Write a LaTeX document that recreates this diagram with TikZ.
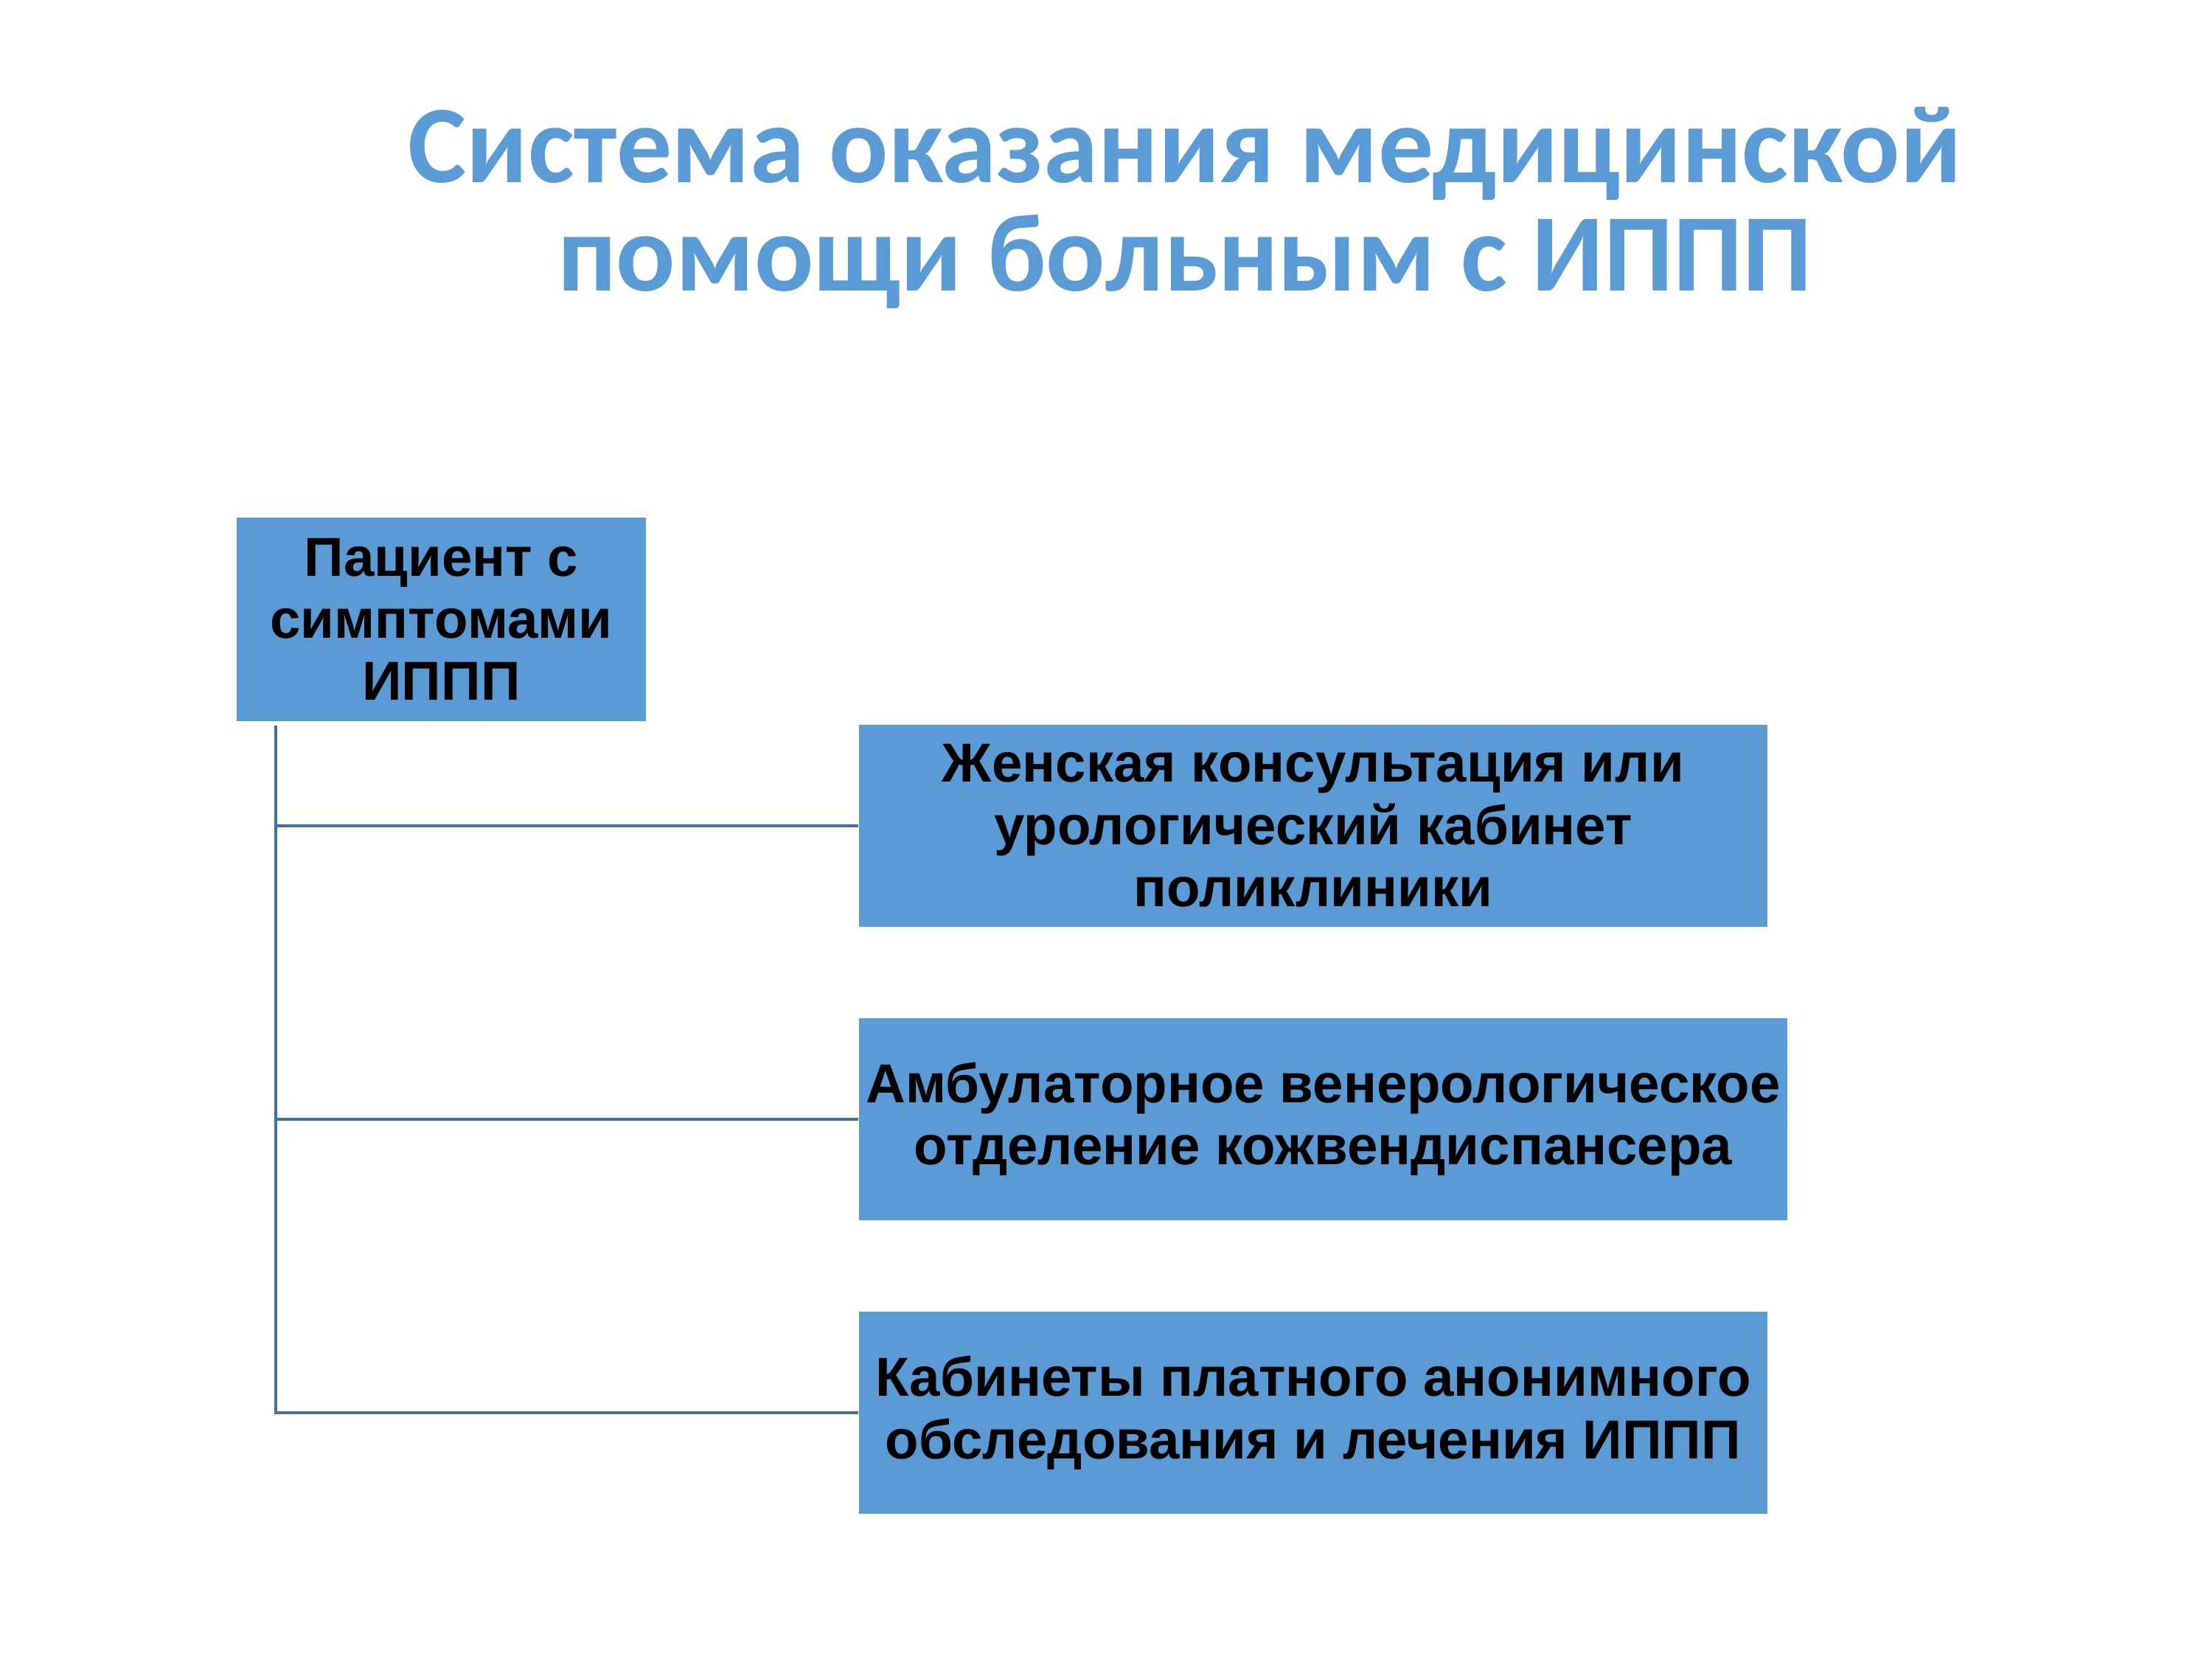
\documentclass[tikz,border=0pt]{standalone}
\usepackage{fontspec}
\setmainfont{Liberation Sans}
\newfontfamily\titlefont{Carlito}
\definecolor{boxblue}{HTML}{5B9BD5}
\definecolor{linkblue}{HTML}{41719C}
\tikzset{
  boxnode/.style={fill=boxblue,draw=none,inner sep=0pt,align=center,
    font=\fontsize{21.2}{24}\selectfont\bfseries},
  link/.style={draw=linkblue,line width=1.2pt}
}

\begin{document}
\begin{tikzpicture}[x=1cm,y=1cm]
\useasboundingbox (0,0) rectangle (30,22.5);
\node[text=boxblue,align=center,font=\titlefont\fontsize{42.6}{42}\selectfont\bfseries] (title) at (16.07,19.68)
  {Система оказания медицинской\\помощи больным с ИППП};
\node[boxnode,minimum width=5.55cm,minimum height=2.76cm] (patient) at (5.985,14.10)
  {Пациент с\\симптомами\\ИППП};
\node[boxnode,minimum width=12.32cm,minimum height=2.74cm] (women) at (17.81,11.30)
  {Женская консультация или\\урологический кабинет\\поликлиники};
\node[boxnode,minimum width=12.59cm,minimum height=2.74cm] (derm) at (17.945,7.32)
  {Амбулаторное венерологическое\\отделение кожвендиспансера};
\node[boxnode,minimum width=12.32cm,minimum height=2.74cm] (anon) at (17.81,3.34)
  {Кабинеты платного анонимного\\обследования и лечения ИППП};
\coordinate (trunk) at ([xshift=0.54cm,yshift=-0.05cm]patient.south west);
\draw[link] (trunk) |- (anon.west);
\draw[link] (trunk |- women.west) -- (women.west);
\draw[link] (trunk |- derm.west) -- (derm.west);
\end{tikzpicture}
\end{document}
